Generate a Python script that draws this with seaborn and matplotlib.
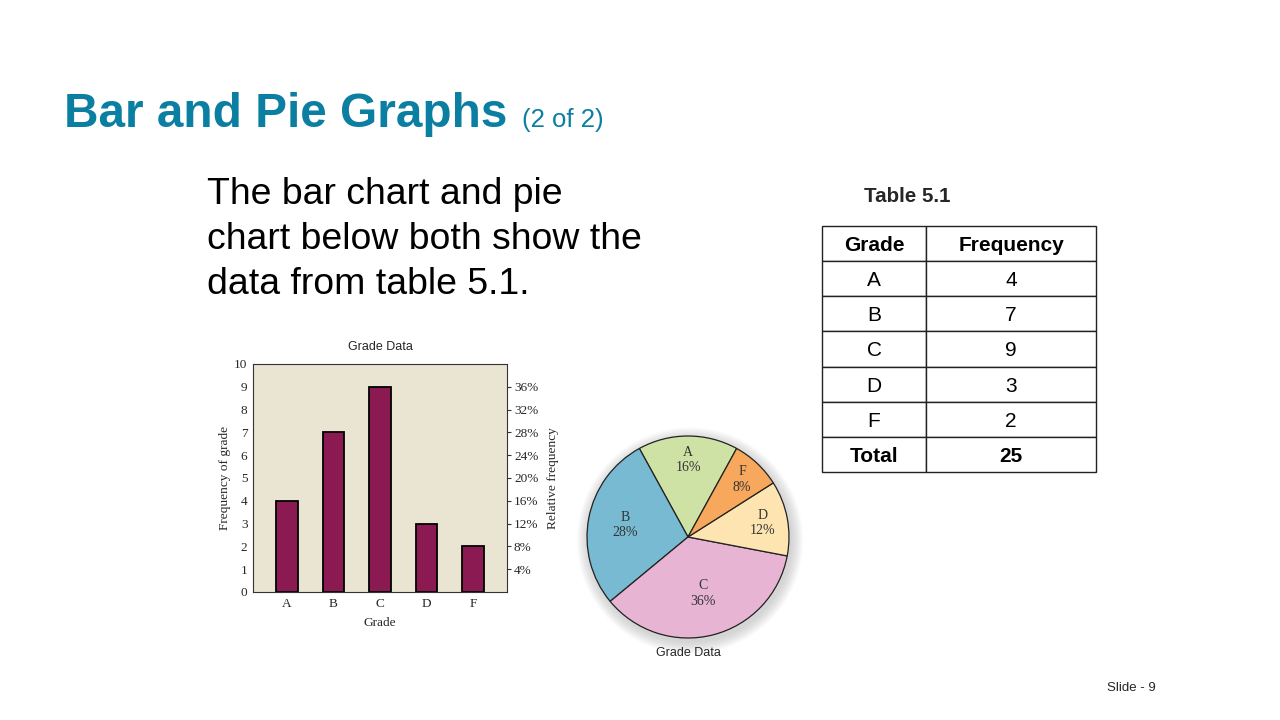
import numpy as np
import pandas as pd
import seaborn as sns
import matplotlib.pyplot as plt
from matplotlib.patches import Circle

# Table 5.1 data
grades = ["A", "B", "C", "D", "F"]
frequency = [4, 7, 9, 3, 2]
pie_order = ["A", "B", "C", "D", "F"]
pie_colors = ["#cfe2a6", "#77bad2", "#e7b4d4", "#fde4b1", "#f8a85c"]
label_r = [0.76, 0.63, 0.58, 0.75, 0.78]
y_ticks = list(range(0, 11))
pct_ticks = [4, 8, 12, 16, 20, 24, 28, 32, 36]

total = sum(frequency)
df = pd.DataFrame({"grade": grades, "freq": frequency})

sns.set_theme(style="white")
plt.rcParams["font.family"] = ["Liberation Sans", "DejaVu Sans"]

W, H = 1280, 720
fig = plt.figure(figsize=(12.8, 7.2), dpi=100)
fig.patch.set_facecolor("white")

def box(x0, y0, x1, y1):
    # pixel box (top-left origin) -> figure fraction rect
    return [x0 / W, 1 - y1 / H, (x1 - x0) / W, (y1 - y0) / H]

# slide text
fig.text(64 / W, 1 - 127 / H, "Bar and Pie Graphs", fontsize=34.4, fontweight="bold",
         color="#0b7fa2", va="baseline")
fig.text(522 / W, 1 - 127 / H, "(2 of 2)", fontsize=18.5, color="#0b7fa2",
         va="baseline")
body = ["The bar chart and pie", "chart below both show the", "data from table 5.1."]
for i, line in enumerate(body):
    fig.text(207 / W, 1 - (204 + 45 * i) / H, line, fontsize=26.9, color="black",
             va="baseline")
fig.text(1131 / W, 1 - 688 / H, "Slide - 9", fontsize=9.5, ha="center", va="center")

# bar chart
serif = ["Liberation Serif", "DejaVu Serif"]
ax = fig.add_axes(box(253, 364, 507, 592))
ax.set_facecolor("#e9e5d2")
sns.barplot(data=df, x="grade", y="freq", color="#8c1a52", edgecolor="black",
            linewidth=1.3, width=0.47, saturation=1, ax=ax)
ax.set_xlim(-0.73, 4.73)
ax.set_ylim(0, 10)
ax.set_yticks(y_ticks)
ax.set_yticklabels([str(t) for t in y_ticks], family=serif, fontsize=9.5)
ax.set_xticks(range(len(grades)))
ax.set_xticklabels(grades, family=serif, fontsize=9.5)
ax.tick_params(axis="both", length=0, pad=4)
for s in ax.spines.values():
    s.set_color("#333333")
    s.set_linewidth(0.8)
ax.set_xlabel("Grade", family=serif, fontsize=9.6, labelpad=5)
ax.set_ylabel("Frequency of grade", family=serif, fontsize=9.6, labelpad=2)
ax.set_title("Grade Data", fontsize=9, pad=10)

ax2 = ax.twinx()
ax2.set_ylim(0, 100 * 10 / total)
ax2.set_yticks(pct_ticks)
ax2.set_yticklabels([f"{p}%" for p in pct_ticks], family=serif, fontsize=9.5)
ax2.tick_params(axis="y", length=3, width=0.8, pad=2, right=True, direction="out",
                color="#333333")
ax2.set_ylabel("Relative frequency", family=serif, fontsize=9.6, labelpad=6)
for s in ax2.spines.values():
    s.set_visible(False)

# pie chart
cx, cy, r = 688, 537, 101
pad = 30
axp = fig.add_axes(box(cx - r - pad, cy - r - pad, cx + r + pad, cy + r + pad))
lim = (r + pad) / r
pie_vals = [frequency[grades.index(g)] for g in pie_order]
for k in range(12, 0, -1):
    axp.add_patch(Circle((0.02, -0.035), 1 + 0.01 * k, color="#888888",
                         alpha=0.03, lw=0, zorder=0))
wedges, _ = axp.pie(pie_vals, colors=pie_colors, startangle=61.2, counterclock=True,
                    wedgeprops=dict(edgecolor="#222222", linewidth=0.9))
for w, g, v, rr in zip(wedges, pie_order, pie_vals, label_r):
    ang = np.deg2rad((w.theta1 + w.theta2) / 2)
    axp.text(rr * np.cos(ang), rr * np.sin(ang), f"{g}\n{100 * v / total:.0f}%",
             ha="center", va="center", family=serif, fontsize=10, color="#333333",
             linespacing=1.25)
axp.set_xlim(-lim, lim)
axp.set_ylim(-lim, lim)
axp.set_aspect("equal")
axp.axis("off")
fig.text(688 / W, 1 - 653 / H, "Grade Data", fontsize=9, ha="center", va="center")

# table 5.1
fig.text(907 / W, 1 - 196 / H, "Table 5.1", fontsize=14.8, fontweight="bold",
         ha="center", va="center")
axt = fig.add_axes(box(822, 226, 1096, 472))
axt.axis("off")
rows = [[g, str(f)] for g, f in zip(grades, frequency)] + [["Total", str(total)]]
tbl = axt.table(cellText=rows, colLabels=["Grade", "Frequency"], cellLoc="center",
                bbox=[0, 0, 1, 1], colWidths=[104 / 274, 170 / 274])
tbl.auto_set_font_size(False)
for (i, j), cell in tbl.get_celld().items():
    cell.set_edgecolor("#222222")
    cell.set_linewidth(1.0)
    cell.set_text_props(fontsize=15, color="black")
    if i == 0 or i == len(rows):
        cell.set_text_props(fontweight="bold", fontsize=15)
    cell.get_text().set_va("center_baseline")

fig.savefig("out.png", dpi=100)
